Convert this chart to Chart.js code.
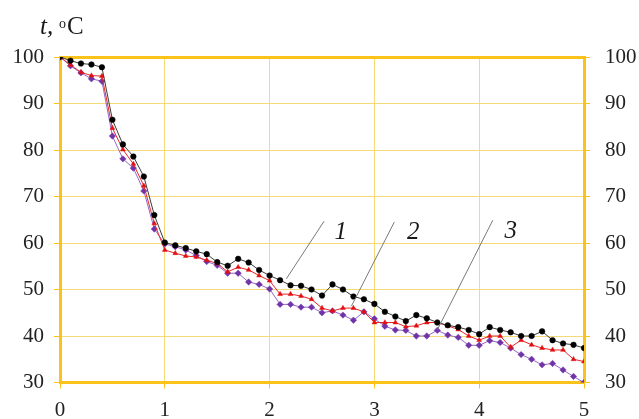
<!DOCTYPE html>
<html>
<head>
<meta charset="utf-8">
<script src="https://cdn.jsdelivr.net/npm/chart.js@4/dist/chart.umd.min.js"></script>
<style>
  html, body { margin: 0; padding: 0; background: #ffffff; }
  #wrap { position: relative; width: 639px; height: 419px; }
</style>
</head>
<body>
<div id="wrap"><canvas id="chart" width="639" height="419"></canvas></div>
<script>
// Time, h
const times = [0.0, 0.1, 0.2, 0.3, 0.4, 0.5, 0.6, 0.7, 0.8, 0.9,
               1.0, 1.1, 1.2, 1.3, 1.4, 1.5, 1.6, 1.7, 1.8, 1.9,
               2.0, 2.1, 2.2, 2.3, 2.4, 2.5, 2.6, 2.7, 2.8, 2.9,
               3.0, 3.1, 3.2, 3.3, 3.4, 3.5, 3.6, 3.7, 3.8, 3.9,
               4.0, 4.1, 4.2, 4.3, 4.4, 4.5, 4.6, 4.7, 4.8, 4.9, 5.0];

// Temperature, °C — curve 1
const curve1 = [100.0, 99.2, 98.6, 98.4, 97.8, 86.5, 81.2, 78.6, 74.3, 66.0,
                60.1, 59.5, 58.9, 58.2, 57.6, 55.9, 55.1, 56.6, 55.8, 54.2,
                53.0, 52.0, 50.9, 50.8, 50.0, 48.7, 51.1, 50.0, 48.5, 47.9,
                46.9, 45.2, 44.2, 43.2, 44.5, 43.8, 42.9, 42.3, 41.9, 41.3,
                40.4, 41.9, 41.3, 40.8, 40.0, 40.0, 41.0, 39.1, 38.4, 38.1, 37.4];

// Temperature, °C — curve 2
const curve2 = [100.0, 98.3, 96.7, 96.0, 95.9, 84.7, 80.1, 77.0, 72.3, 64.2,
                58.5, 57.8, 57.2, 57.0, 56.3, 55.6, 53.8, 54.8, 54.2, 53.0,
                51.9, 49.0, 49.0, 48.6, 47.9, 46.0, 45.4, 46.0, 46.0, 45.2,
                42.9, 42.9, 42.9, 42.0, 42.2, 42.9, 42.9, 42.2, 41.4, 40.0,
                39.1, 40.0, 40.0, 37.6, 39.1, 38.1, 37.4, 37.0, 37.0, 35.0, 34.5];

// Temperature, °C — curve 3
const curve3 = [100.0, 98.1, 96.6, 95.3, 94.8, 83.0, 78.1, 76.1, 71.2, 63.0,
                59.8, 59.2, 58.5, 57.3, 56.0, 55.2, 53.5, 53.5, 51.6, 51.1,
                50.1, 46.8, 46.8, 46.2, 46.2, 45.0, 45.4, 44.5, 43.4, 45.2,
                43.7, 42.1, 41.3, 41.2, 40.0, 40.0, 41.2, 40.2, 39.7, 38.0,
                38.0, 39.0, 38.6, 37.4, 36.0, 35.0, 33.8, 34.1, 32.7, 31.3, 30.0];

const xTicks = [0, 1, 2, 3, 4, 5];
const yTicks = [30, 40, 50, 60, 70, 80, 90, 100];

// Curve labels: text, leader start (on curve), leader end, label position (data units)
const curveLabels = ['1', '2', '3'];
const leaderFrom = [[2.16, 52.3], [2.78, 46.4], [3.60, 41.3]];
const leaderTo   = [[2.52, 64.7], [3.19, 64.5], [4.13, 64.9]];
const labelAt    = [[2.68, 62.3], [3.37, 62.3], [4.30, 62.5]];

const GOLD = '#FBC21A';
const GRID = '#F4DA74';
const TEXT = '#222222';
const SERIF = '"Liberation Serif", "DejaVu Serif", serif';

function pairs(ys) { return times.map((t, i) => ({ x: t, y: ys[i] })); }

const annotate = {
  id: 'annotate',
  afterDatasetsDraw(chart) {
    const { ctx, scales } = chart;
    const xs = scales.x, ys = scales.y;
    ctx.save();
    ctx.strokeStyle = '#7a7a7a';
    ctx.lineWidth = 1;
    ctx.fillStyle = '#1a1a1a';
    ctx.font = 'italic 25px ' + SERIF;
    ctx.textAlign = 'center';
    ctx.textBaseline = 'middle';
    curveLabels.forEach((txt, i) => {
      ctx.beginPath();
      ctx.moveTo(xs.getPixelForValue(leaderFrom[i][0]), ys.getPixelForValue(leaderFrom[i][1]));
      ctx.lineTo(xs.getPixelForValue(leaderTo[i][0]), ys.getPixelForValue(leaderTo[i][1]));
      ctx.stroke();
      ctx.fillText(txt, xs.getPixelForValue(labelAt[i][0]), ys.getPixelForValue(labelAt[i][1]));
    });
    // Axis title
    ctx.textAlign = 'left';
    ctx.textBaseline = 'alphabetic';
    ctx.font = 'italic 25px ' + SERIF;
    ctx.fillText('t,', 40, 34);
    ctx.font = '14px ' + SERIF;
    ctx.fillText('o', 59, 28);
    ctx.font = '25px ' + SERIF;
    ctx.fillText('C', 67, 34);
    ctx.restore();
  }
};

const tickFont = { family: SERIF, size: 21 };

new Chart(document.getElementById('chart'), {
  type: 'line',
  data: {
    datasets: [
      {
        label: '1', data: pairs(curve1),
        borderColor: '#3c3c3c', borderWidth: 1,
        pointStyle: 'circle', pointRadius: 2.8,
        pointBackgroundColor: '#000000', pointBorderColor: '#000000', pointBorderWidth: 0.5,
        tension: 0
      },
      {
        label: '2', data: pairs(curve2),
        borderColor: '#E8262B', borderWidth: 1,
        pointStyle: 'triangle', pointRadius: 2.8,
        pointBackgroundColor: '#E01010', pointBorderColor: '#E01010', pointBorderWidth: 0.5,
        tension: 0
      },
      {
        label: '3', data: pairs(curve3),
        borderColor: '#9468C8', borderWidth: 1,
        pointStyle: 'rectRot', pointRadius: 3.2,
        pointBackgroundColor: '#7034A8', pointBorderColor: '#7034A8', pointBorderWidth: 0.5,
        tension: 0
      }
    ]
  },
  options: {
    responsive: false,
    animation: false,
    events: [],
    layout: { padding: { top: 57, right: 0, bottom: 0, left: 0 } },
    plugins: { legend: { display: false }, tooltip: { enabled: false }, title: { display: false } },
    scales: {
      x: {
        type: 'linear', position: 'bottom', min: 0, max: 5,
        afterBuildTicks: s => { s.ticks = xTicks.map(v => ({ value: v })); },
        afterFit: s => { s.height = 36.5; },
        ticks: { color: TEXT, font: tickFont, padding: 9, maxRotation: 0 },
        grid: {
          color: c => (c.tick && (c.tick.value === 5) ? GOLD : GRID),
          lineWidth: c => (c.tick && c.tick.value === 5 ? 3 : 1),
          tickColor: GOLD, tickLength: 6, tickWidth: 1
        },
        border: { color: GOLD, width: 3 }
      },
      y: {
        type: 'linear', position: 'left', min: 30, max: 100,
        afterBuildTicks: s => { s.ticks = yTicks.map(v => ({ value: v })); },
        afterFit: s => { s.width = 60; },
        ticks: { color: TEXT, font: tickFont, padding: 10 },
        grid: {
          color: c => (c.tick && c.tick.value === 100 ? GOLD : GRID),
          lineWidth: c => (c.tick && c.tick.value === 100 ? 3 : 1),
          tickColor: GOLD, tickLength: 6, tickWidth: 1
        },
        border: { color: GOLD, width: 3 }
      },
      yRight: {
        type: 'linear', position: 'right', min: 30, max: 100,
        afterBuildTicks: s => { s.ticks = yTicks.map(v => ({ value: v })); },
        afterFit: s => { s.width = 55; },
        ticks: { color: TEXT, font: tickFont, padding: 15 },
        grid: {
          drawOnChartArea: false,
          tickColor: GOLD, tickLength: 6, tickWidth: 1
        },
        border: { color: GOLD, width: 3 }
      }
    }
  },
  plugins: [annotate]
});
</script>
</body>
</html>
